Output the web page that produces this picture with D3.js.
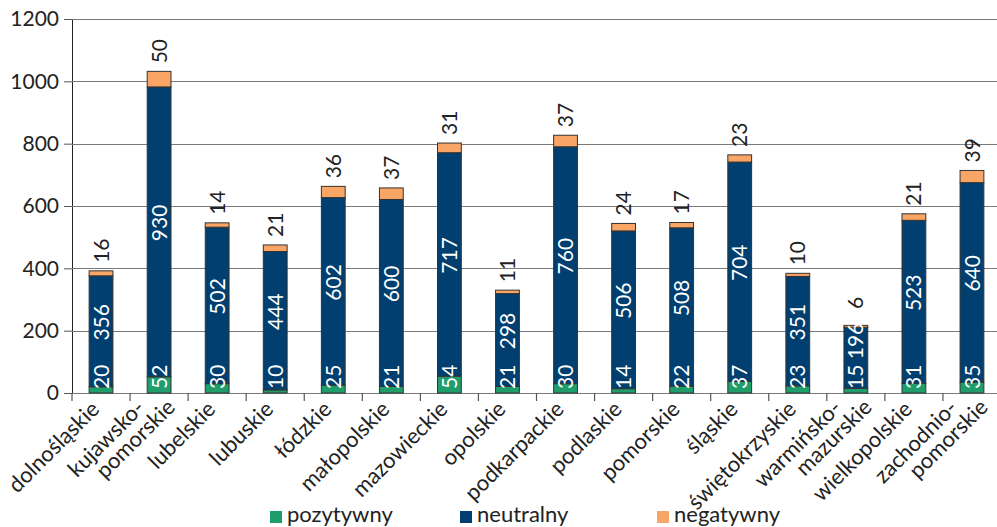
<!DOCTYPE html>
<html>
<head>
<meta charset="utf-8">
<script src="https://cdn.jsdelivr.net/npm/d3@7"></script>
<style>
  body { margin: 0; background: #fff; }
  svg { display: block; font-family: Lato, "Open Sans", sans-serif; }
</style>
</head>
<body>
<div id="chart"></div>
<script>
const width = 997;
const height = 527;

// data
const regions = [
  ["dolnośląskie"], ["kujawsko-", "pomorskie"], ["lubelskie"], ["lubuskie"], ["łódzkie"],
  ["małopolskie"], ["mazowieckie"], ["opolskie"], ["podkarpackie"], ["podlaskie"],
  ["pomorskie"], ["śląskie"], ["świętokrzyskie"], ["warmińsko-", "mazurskie"],
  ["wielkopolskie"], ["zachodnio-", "pomorskie"]
];
const pozytywny = [20, 52, 30, 10, 25, 21, 54, 21, 30, 14, 22, 37, 23, 15, 31, 35];
const neutralny = [356, 930, 502, 444, 602, 600, 717, 298, 760, 506, 508, 704, 351, 196, 523, 640];
const negatywny = [16, 50, 14, 21, 36, 37, 31, 11, 37, 24, 17, 23, 10, 6, 21, 39];
const seriesNames = ["pozytywny", "neutralny", "negatywny"];
const yTicks = [0, 200, 400, 600, 800, 1000, 1200];

const colors = {
  pozytywny: "#1f9e6b",
  neutralny: "#003f6f",
  negatywny: "#f8a565"
};

const numSize = "21px";
const textSize = "22px";
const margin = { top: 19, right: -4, bottom: 134, left: 72 };

const keys = regions.map(r => r.join(" "));
const rows = keys.map((k, i) => ({
  key: k,
  pozytywny: pozytywny[i],
  neutralny: neutralny[i],
  negatywny: negatywny[i]
}));

const svg = d3.select("#chart").append("svg")
  .attr("width", width)
  .attr("height", height);

const x = d3.scaleBand()
  .domain(keys)
  .range([margin.left, width - margin.right])
  .paddingInner(0.59)
  .paddingOuter(0.295);

const xEdges = d3.scaleBand()
  .domain(keys)
  .range([margin.left, width - margin.right]);

const y = d3.scaleLinear()
  .domain([0, 1200])
  .range([height - margin.bottom, margin.top]);

// y axis
const gy = svg.append("g")
  .attr("transform", `translate(${margin.left},0)`)
  .call(d3.axisLeft(y).tickValues(yTicks).tickFormat(d3.format("d"))
    .tickSize(8).tickSizeOuter(0).tickPadding(5));
gy.select(".domain").attr("stroke", "#222");
gy.selectAll(".tick line").attr("stroke", "#555");
gy.selectAll(".tick text")
  .attr("font-size", numSize)
  .attr("fill", "#222")
  .attr("font-family", "Lato");

// gridlines
svg.append("g")
  .selectAll("line")
  .data(yTicks)
  .join("line")
  .attr("x1", margin.left)
  .attr("x2", width)
  .attr("y1", d => Math.round(y(d)) + 0.5)
  .attr("y2", d => Math.round(y(d)) + 0.5)
  .attr("stroke", "#7a7a7a")
  .attr("stroke-width", 1.2);

// x axis ticks at band edges
const edgeVals = keys.map(k => xEdges(k)).concat([xEdges.range()[1]]);
svg.append("g")
  .selectAll("line")
  .data(edgeVals)
  .join("line")
  .attr("x1", d => d)
  .attr("x2", d => d)
  .attr("y1", y(0))
  .attr("y2", y(0) + 8)
  .attr("stroke", "#555")
  .attr("stroke-width", 1.2);

// stacked bars
const stack = d3.stack().keys(seriesNames)(rows);

svg.append("g")
  .selectAll("g")
  .data(stack)
  .join("g")
  .attr("fill", d => colors[d.key])
  .selectAll("rect")
  .data(d => d)
  .join("rect")
  .attr("x", d => x(d.data.key))
  .attr("width", x.bandwidth())
  .attr("y", d => y(d[1]))
  .attr("height", d => y(d[0]) - y(d[1]))
  .attr("stroke", "#333")
  .attr("stroke-width", 1);

// value labels
const lbl = svg.append("g")
  .attr("font-family", "Lato")
  .attr("font-size", numSize);

const cx = d => x(d.key) + x.bandwidth() / 2;
// centre of the neutral label, kept clear of the positive label
const neuY = d => Math.min(y(d.pozytywny + d.neutralny / 2) - 9, y(0) - 52);

lbl.selectAll("text.pos")
  .data(rows)
  .join("text")
  .attr("class", "pos")
  .attr("fill", "#fff")
  .attr("text-anchor", "start")
  .attr("dy", "0.36em")
  .attr("transform", d => `translate(${cx(d)},${y(0) - 4}) rotate(-90)`)
  .text(d => d.pozytywny);

lbl.selectAll("text.neu")
  .data(rows)
  .join("text")
  .attr("class", "neu")
  .attr("fill", "#fff")
  .attr("text-anchor", "middle")
  .attr("dy", "0.36em")
  .attr("transform", d => `translate(${cx(d)},${neuY(d)}) rotate(-90)`)
  .text(d => d.neutralny);

lbl.selectAll("text.neg")
  .data(rows)
  .join("text")
  .attr("class", "neg")
  .attr("fill", "#222")
  .attr("text-anchor", "start")
  .attr("dy", "0.36em")
  .attr("transform", d => {
    const top = y(d.pozytywny + d.neutralny + d.negatywny) - 8;
    return `translate(${cx(d)},${Math.min(top, neuY(d) - 32)}) rotate(-90)`;
  })
  .text(d => d.negatywny);

// category labels
const catLabels = svg.append("g")
  .attr("font-family", "Lato")
  .attr("font-size", textSize)
  .attr("fill", "#222")
  .selectAll("text")
  .data(regions)
  .join("text")
  .attr("text-anchor", "end")
  .attr("transform", (r, i) => `translate(${x(keys[i]) + x.bandwidth() / 2 - 6},${y(0) + 12}) rotate(-45)`);

catLabels.each(function(r) {
  const t = d3.select(this);
  if (r.length === 1) {
    t.append("tspan").attr("x", 0).attr("y", 0).attr("dy", "0.36em").text(r[0]);
  } else {
    t.append("tspan").attr("x", -8).attr("y", -10).attr("dy", "0.36em").text(r[0]);
    t.append("tspan").attr("x", 14).attr("y", 11).attr("dy", "0.36em").text(r[1]);
  }
});

// legend
const legendX = d3.scaleOrdinal()
  .domain(seriesNames)
  .range([270, 460, 657]);

const lg = svg.append("g")
  .selectAll("g")
  .data(seriesNames)
  .join("g")
  .attr("transform", d => `translate(${legendX(d)},511)`);

lg.append("rect")
  .attr("width", 12)
  .attr("height", 12)
  .attr("fill", d => colors[d]);

lg.append("text")
  .attr("x", 17)
  .attr("y", 11)
  .attr("font-family", "Lato")
  .attr("font-size", textSize)
  .attr("fill", "#222")
  .text(d => d);
</script>
</body>
</html>
